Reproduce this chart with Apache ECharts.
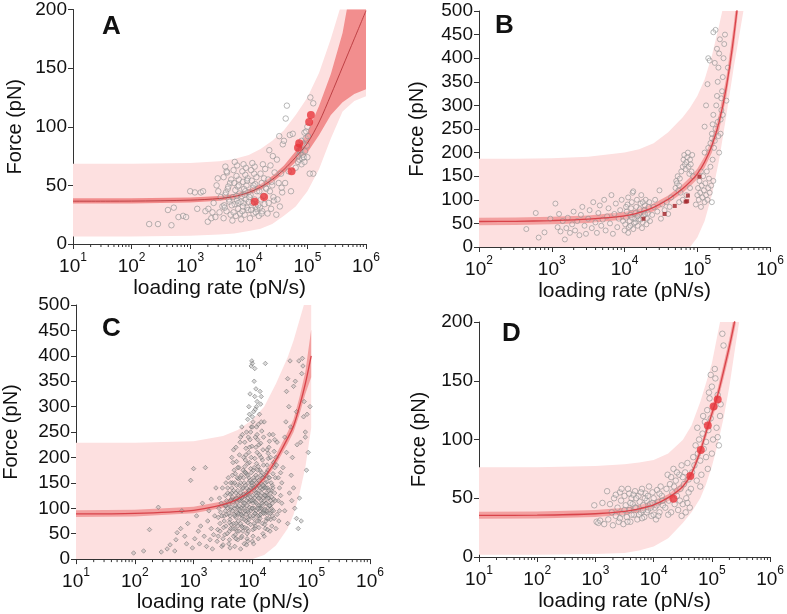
<!DOCTYPE html>
<html><head><meta charset="utf-8">
<script src="https://cdn.jsdelivr.net/npm/echarts@6/dist/echarts.min.js"></script>
<style>html,body{margin:0;padding:0;background:#fff}#c{width:787px;height:614px}</style>
</head><body><div id="c"></div>
<script>
// ---------- DATA (x given as log10 of loading rate in pN/s, y = force in pN) ----------
const xTickExps = [1,2,3,4,5,6];
const minorMults = [2,3,4,5,6,7,8,9];

// Panel A
const aExp     = [1, 2, 3, 3.5, 3.75, 4, 4.2, 4.4, 4.6, 4.8, 5, 5.2, 5.4, 5.6, 5.8, 6];
const aCenter  = [36.5, 36.6, 37.4, 38.8, 40.5, 44, 48.5, 55, 63.5, 74, 86, 104, 127, 151, 175, 199];
const aInLo    = [34.5, 34.6, 35.4, 36.8, 38.5, 42, 46.3, 52.5, 60.5, 70, 78, 93, 110, 121, 128, 132];
const aInHi    = [39, 39, 39.6, 41, 42.7, 46.5, 51, 58, 67, 79, 95, 118, 145, 180, 235, 280];
const aOutLo   = [6.5, 6.5, 7, 8, 9, 11, 13, 17, 24, 32, 45, 64, 90, 113, 122, 126];
const aOutHi   = [68.5, 68.5, 69, 70.5, 72.5, 76, 81, 88, 97, 110, 125, 146, 175, 208, 245, 280];
const aRed = [[4.10,36],[4.26,40],[4.73,62],[4.84,82],[4.86,86],[5.03,104],[5.06,110]];
const aPts = [
[2.30,17],[2.45,17],[2.68,16],[2.62,29],[2.72,31],[2.8,23],[2.88,24],[2.93,23],[3.0,45],[3.08,44],[3.12,30],[3.18,44],[3.22,45],[3.26,28],[3.3,19],[3.31,30],[3.36,22],[3.4,35],[3.43,23],[3.45,50],[3.47,56],[3.5,27],[3.52,40],[3.55,32],[3.38,27],[3.48,45],
[3.57,22],[3.62,28],[3.58,33],[3.66,38],[3.6,42],[3.64,47],[3.68,52],[3.57,57],[3.63,61],[3.69,25],[3.59,31],[3.67,36],[3.61,44],[3.65,49],[3.7,55],[3.62,62],[3.6,66],
[3.72,20],[3.78,24],[3.74,27],[3.82,30],[3.76,34],[3.8,37],[3.73,40],[3.84,43],[3.77,46],[3.81,49],[3.75,52],[3.83,55],[3.79,58],[3.74,63],[3.8,67],[3.85,26],[3.71,33],[3.79,41],[3.83,50],[3.76,70],[3.82,35],
[3.87,21],[3.93,25],[3.89,28],[3.97,31],[3.91,35],[3.95,38],[3.88,41],[3.99,44],[3.92,47],[3.96,50],[3.9,53],[3.98,56],[3.94,59],[3.89,62],[3.95,65],[3.91,68],[3.99,29],[3.86,36],[3.94,45],[3.97,54],[3.9,32],[3.93,42],
[4.02,22],[4.08,26],[4.04,29],[4.12,32],[4.06,35],[4.1,38],[4.03,42],[4.14,45],[4.07,48],[4.11,51],[4.05,54],[4.13,57],[4.09,60],[4.04,63],[4.1,66],[4.06,69],[4.14,30],[4.01,40],[4.08,50],[4.12,27],[4.0,36],
[4.17,24],[4.23,28],[4.19,31],[4.27,34],[4.21,38],[4.25,41],[4.18,45],[4.29,48],[4.22,52],[4.26,56],[4.2,60],[4.28,64],[4.24,68],[4.16,33],[4.3,47],[4.22,26],
[4.32,26],[4.38,30],[4.34,35],[4.42,40],[4.36,45],[4.4,50],[4.33,55],[4.44,61],[4.37,67],[4.41,75],[4.35,80],[4.43,37],[4.39,53],
[4.47,25],[4.53,32],[4.49,38],[4.57,44],[4.51,52],[4.55,60],[4.48,72],[4.58,85],[4.52,92],[4.56,48],
[4.6,88],[4.65,118],[4.63,107],[4.7,93],[4.75,94],[4.72,45],[4.62,52],[4.68,62],
[4.84,70],[4.86,72],[4.85,75],[4.88,78],[4.86,80],[4.9,68],[4.91,73],[4.92,76],[4.89,80],[4.93,85],[4.9,88],[4.95,70],[4.94,74],[4.96,79],[4.97,90],[4.95,95],[5.0,74],[4.99,84],[5.01,92],[4.98,96],[5.0,100],[5.05,125],[5.1,120],[5.1,60],[5.04,60],[4.8,65]];

// Panel B
const bExp     = [2, 2.5, 3, 3.5, 4, 4.2, 4.4, 4.6, 4.8, 4.9, 5, 5.1, 5.2, 5.3, 5.4, 5.5, 5.6, 5.7];
const bCenter  = [54, 54.5, 56, 59, 66, 73, 84, 101, 124, 138, 155, 180, 215, 265, 340, 445, 580, 750];
const bInLo    = [46, 46.5, 48, 51, 58, 65, 76, 93, 115, 128, 144, 168, 200, 248, 320, 420, 550, 710];
const bInHi    = [62, 62.5, 64, 67, 74, 81, 92, 109, 133, 148, 166, 192, 230, 282, 360, 470, 610, 790];
const bOutLo   = [0, 0, 0, 0, 0, 0, 0, 0, 0, 0, 20, 55, 110, 185, 280, 380, 470, 560];
const bOutHi   = [187, 187, 188, 191, 200, 207, 220, 243, 275, 295, 320, 355, 405, 470, 540, 620, 700, 800];
const bRed = [[4.26,60],[4.55,70],[4.69,87],[4.86,97],[4.87,109],[4.84,96],[5.03,149]];
const bPts = [
[2.65,38],[2.78,72],[2.82,20],[2.9,31],[2.98,60],[3.05,92],[3.08,42],[3.1,70],[3.12,33],[3.15,55],[3.18,16],[3.2,40],[3.22,62],[3.25,30],[3.28,48],[3.3,75],[3.32,35],[3.35,55],[3.38,25],[3.4,68],[3.42,85],[3.45,45],[3.47,28],[3.5,60],[3.52,78],[3.55,40],[3.57,95],[3.6,52],[3.62,30],[3.64,72],[3.66,88],[3.68,45],[3.7,58],[3.72,100],[3.74,35],[3.76,65],[3.78,82],[3.8,50],[3.82,110],[3.84,28],[3.86,70],[3.88,92],[3.9,42],[3.92,60],[3.94,78],[3.96,100],[3.98,55],
[4.0,35],[4.01,48],[4.02,62],[4.03,75],[4.04,90],[4.05,105],[4.06,42],[4.07,55],[4.08,68],[4.09,82],[4.1,95],[4.11,115],[4.12,38],[4.13,50],[4.14,60],[4.15,72],[4.16,85],[4.17,100],[4.18,45],[4.19,58],[4.2,70],[4.21,80],[4.22,92],[4.23,110],[4.24,40],[4.25,52],[4.26,65],[4.27,78],[4.28,88],[4.29,100],[4.3,48],[4.31,60],[4.32,72],[4.33,85],[4.34,95],[4.35,55],[4.05,30],[4.12,118],[4.18,65],[4.25,95],[4.08,45],[4.15,52],[4.22,58],[4.28,70],[4.02,85],[4.1,62],
[4.38,68],[4.4,85],[4.42,100],[4.45,75],[4.48,120],[4.5,60],[4.52,90],[4.55,78],[4.58,95],[4.6,70],[4.62,85],[4.64,105],
[4.7,125],[4.71,140],[4.72,135],[4.73,150],[4.74,120],[4.75,130],[4.76,145],[4.77,115],[4.78,160],[4.8,170],[4.81,185],[4.82,195],[4.83,175],[4.84,165],[4.85,180],[4.86,190],[4.87,200],[4.88,170],[4.89,155],[4.9,185],[4.91,175],[4.92,160],[4.93,195],[4.94,150],[4.8,100],[4.75,95],[4.85,110],[4.9,125],
[4.98,90],[5.0,110],[5.01,125],[5.02,100],[5.03,140],[5.04,115],[5.05,85],[5.06,130],[5.07,105],[5.08,150],[5.09,120],[5.1,95],[5.11,135],[5.12,110],[5.13,160],[5.14,100],[5.15,125],[5.16,145],[5.17,115],[5.18,170],[5.19,130],[5.2,95],[5.21,185],[5.22,140],[5.05,160],[5.1,200],[5.15,210],[5.2,230],
[5.1,255],[5.12,300],[5.14,345],[5.15,400],[5.17,395],[5.18,220],[5.2,240],[5.21,260],[5.22,280],[5.23,210],[5.24,225],[5.25,250],[5.26,300],[5.27,320],[5.28,350],[5.29,380],[5.3,410],[5.31,440],[5.32,270],[5.33,290],[5.34,330],[5.35,360],[5.36,400],[5.37,430],[5.38,450],[5.3,200],[5.32,240],[5.27,420],[5.25,460],[5.22,455],[5.4,310],[5.42,380],[5.35,280],[5.28,265],[5.24,390],[5.29,235],[5.33,315]];

// Panel C
const cExp     = [1, 2, 3, 3.5, 3.75, 4, 4.2, 4.4, 4.6, 4.7, 4.8, 4.9, 5];
const cCenter  = [89, 90, 96, 107, 118, 136, 160, 195, 238, 262, 300, 345, 400];
const cInLo    = [83, 84, 90, 101, 111.5, 129, 152.5, 186, 227, 250, 284, 325, 358];
const cInHi    = [96, 97, 103, 114, 125, 143, 168, 205, 250, 275, 318, 368, 452];
const cOutLo   = [0, 0, 0, 0, 0, 0, 8, 27, 60, 88, 128, 180, 258];
const cOutHi   = [229, 229, 232, 242, 254, 274, 300, 345, 397, 430, 470, 510, 540];
const cPts = [
[1.98,12],[2.15,16],[2.4,102],[2.25,58],[2.45,14],[2.55,20],[2.6,28],[2.68,16],[2.7,38],[2.72,52],[2.78,60],[2.8,95],[2.85,45],[2.88,30],[2.9,70],[2.95,155],[2.98,22],[3.0,178],[3.02,40],[3.05,85],[3.08,55],[3.1,30],[3.12,65],[3.15,110],[3.18,45],[3.2,180],[3.22,25],[3.24,75],[3.26,95],[3.28,38],[3.3,60],[3.3,118],[3.32,20],[3.34,48],[3.36,85],[3.38,140],
[3.4,35],[3.41,58],[3.42,82],[3.43,100],[3.44,120],[3.42,45],[3.45,70],[3.46,92],[3.47,110],[3.48,25],[3.49,140],
[3.5,40],[3.51,62],[3.52,85],[3.53,105],[3.54,125],[3.55,150],[3.5,28],[3.52,75],[3.54,95],[3.56,115],[3.57,50],[3.58,130],[3.59,160],
[3.6,30],[3.61,55],[3.62,78],[3.63,98],[3.64,118],[3.65,140],[3.66,165],[3.67,190],[3.68,45],[3.69,88],[3.6,108],[3.62,128],[3.64,68],[3.66,150],[3.68,215],[3.61,38],[3.63,60],[3.65,200],[3.67,112],[3.69,175],
[3.7,25],[3.71,48],[3.72,70],[3.73,92],[3.74,112],[3.75,135],[3.76,158],[3.77,180],[3.78,205],[3.79,230],[3.7,60],[3.72,82],[3.74,102],[3.76,125],[3.78,145],[3.71,168],[3.73,192],[3.75,38],[3.77,88],[3.79,118],[3.7,150],[3.72,220],[3.74,55],[3.76,75],[3.78,98],
[3.8,20],[3.81,42],[3.82,65],[3.83,85],[3.84,105],[3.85,128],[3.86,150],[3.87,172],[3.88,195],[3.89,218],[3.8,240],[3.82,260],[3.84,55],[3.86,78],[3.88,95],[3.81,115],[3.83,138],[3.85,160],[3.87,182],[3.89,205],[3.8,70],[3.82,100],[3.84,122],[3.86,30],[3.88,145],[3.81,165],[3.83,245],[3.85,90],
[3.9,28],[3.91,50],[3.92,72],[3.93,92],[3.94,112],[3.95,135],[3.96,155],[3.97,178],[3.98,200],[3.99,222],[3.9,250],[3.92,275],[3.94,300],[3.96,325],[3.98,380],[3.91,60],[3.93,82],[3.95,102],[3.97,122],[3.99,145],[3.9,168],[3.92,188],[3.94,210],[3.96,235],[3.98,260],[3.91,40],[3.93,130],[3.95,285],[3.97,95],[3.99,390],[3.92,120],[3.94,160],
[4.0,35],[4.01,58],[4.02,80],[4.03,100],[4.04,120],[4.05,142],[4.06,165],[4.07,188],[4.08,210],[4.09,235],[4.0,260],[4.02,290],[4.04,320],[4.06,335],[4.08,310],[4.01,45],[4.03,70],[4.05,90],[4.07,110],[4.09,130],[4.0,150],[4.02,175],[4.04,198],[4.06,220],[4.08,245],[4.01,270],[4.03,155],[4.05,65],[4.07,300],[4.09,85],[4.0,385],[4.04,375],[4.02,115],
[4.1,40],[4.11,62],[4.12,85],[4.13,105],[4.14,125],[4.15,148],[4.16,170],[4.17,195],[4.18,215],[4.19,240],[4.1,265],[4.12,285],[4.14,305],[4.11,75],[4.13,95],[4.15,115],[4.17,138],[4.19,160],[4.1,182],[4.12,205],[4.14,228],[4.16,252],[4.18,50],[4.11,135],[4.13,175],[4.15,100],[4.17,70],[4.19,120],
[4.2,45],[4.21,68],[4.22,90],[4.23,110],[4.24,130],[4.25,152],[4.26,175],[4.27,198],[4.28,220],[4.29,245],[4.2,270],[4.22,60],[4.24,80],[4.26,100],[4.28,120],[4.21,142],[4.23,165],[4.25,185],[4.27,208],[4.29,232],[4.2,140],[4.22,385],[4.24,95],[4.26,58],
[4.3,55],[4.31,78],[4.32,100],[4.33,122],[4.34,145],[4.35,168],[4.36,190],[4.37,212],[4.38,235],[4.39,160],[4.3,105],[4.32,135],[4.34,85],[4.36,118],[4.38,180],[4.31,200],[4.33,65],[4.35,245],
[4.4,60],[4.42,88],[4.44,115],[4.46,140],[4.48,170],[4.4,200],[4.42,230],[4.44,160],[4.46,95],[4.48,125],[4.41,185],[4.45,75],
[4.5,110],[4.52,180],[4.55,240],[4.58,330],[4.6,355],[4.62,300],[4.65,260],[4.68,200],[4.7,140],[4.72,100],[4.75,80],[4.78,60],[4.8,120],[4.82,230],[4.85,395],[4.86,380],[4.88,310],[4.9,250],[4.92,175],[4.95,210],[4.6,70],[4.63,130],[4.66,165],[4.7,340],[4.73,350],[4.76,225],[4.79,390],[4.84,365],[4.87,280],[4.9,240],[4.55,95],[4.5,150],[4.58,210],[4.67,115],[4.83,75],[4.93,285],[4.98,300],[4.75,290],[4.64,390],[4.57,270],
[3.53,48],[3.56,88],[3.58,140],[3.61,72],[3.63,115],[3.66,95],[3.68,135],[3.7,85],[3.71,118],[3.73,145],[3.75,65],[3.77,105],[3.79,160],[3.8,130],[3.82,80],[3.84,175],[3.85,110],[3.87,62],[3.88,125],[3.89,88],[3.9,140],[3.91,105],[3.92,165],[3.93,55],[3.94,78],[3.95,190],[3.96,115],[3.97,68],[3.98,150],[3.99,100],[4.0,125],[4.01,85],[4.02,140],[4.03,180],[4.04,60],[4.05,112],[4.06,95],[4.07,150],[4.08,75],[4.09,175],[4.1,105],[4.11,155],[4.12,120],[4.13,140],[4.14,88],[4.15,200],[4.16,110],[4.17,160],[4.18,92],[4.19,185],[4.2,115],[4.21,98],[4.22,150],[4.23,75],[4.24,170],[4.25,125],[4.26,140],[4.27,90],[4.28,160],[4.29,105],[4.31,130],[4.33,95],[4.35,140],[4.37,80],[4.39,115],[3.72,40],[3.82,45],[3.92,35],[4.02,30],[3.62,22],[3.55,65],[3.45,55],[3.48,85],[3.58,100],[3.87,230],[3.97,250],[4.07,260],[4.0,280],[3.93,240],[4.11,225],[4.05,295],[4.13,330],[4.03,350],[4.15,320],
[3.62,85],[3.64,102],[3.66,122],[3.68,70],[3.7,100],[3.72,130],[3.74,160],[3.76,90],[3.78,115],[3.8,150],[3.82,120],[3.84,140],[3.86,100],[3.88,170],[3.9,115],[3.92,95],[3.94,135],[3.96,85],[3.98,170],[4.0,100],[4.02,160],[4.04,90],[4.06,130],[4.08,160],[4.1,120],[4.12,100],[4.14,165],[4.16,130],[4.18,145],[4.2,95],[4.22,125],[4.24,110],[4.26,120],[4.28,135],[4.3,90],[4.32,150],[4.34,110],[4.36,95],[4.38,130],[3.75,180],[3.85,200],[3.95,220],[4.05,240],[4.15,270],[4.25,215],[3.65,130],[3.55,105],[3.6,90],[3.67,60],[3.77,55],[3.87,110],[3.97,140],[4.07,125],[4.17,105],[4.27,80],[3.83,62],[3.93,150],[4.03,135],[4.13,80],[4.23,140],[3.73,120],[3.63,150],[3.79,95],[3.89,75],[3.99,115],[4.09,100],[4.19,90],[4.29,160],[3.71,105],[3.81,88],[3.91,128],[4.01,110],[4.11,145],[4.21,125],[4.31,115]];

// Panel D
const dExp     = [1, 2, 3, 3.5, 3.75, 4, 4.25, 4.5, 4.65, 4.8, 4.9, 5, 5.1, 5.2, 5.3, 5.4, 5.5];
const dCenter  = [35.4, 35.6, 36.8, 38.8, 41, 44.4, 50.5, 60, 71, 90, 106, 122, 138, 158, 179, 203, 232];
const dInLo    = [32.5, 32.7, 34, 36, 38, 41.5, 47.5, 57, 67.5, 86, 101.5, 117, 132.5, 152, 172.5, 196, 224];
const dInHi    = [38.5, 38.7, 40, 42, 44, 47.5, 53.5, 63.5, 74.5, 94, 110.5, 127, 143.5, 164, 185.5, 210, 240];
const dOutLo   = [2, 2, 2.5, 3.5, 5.5, 9, 16, 29, 38, 50, 62, 77, 96, 118, 145, 178, 210];
const dOutHi   = [76.4, 76.4, 77.5, 79, 80.5, 82.6, 88, 99.6, 112, 132, 148, 165, 190, 215, 245, 275, 305];
const dRed = [[4.34,49.5],[4.63,69],[4.81,91],[4.93,112],[5.03,128],[5.10,134]];
const dPts = [
[2.98,44],[3.02,30],[3.05,29],[3.08,31],[3.12,46],[3.15,28],[3.2,56],[3.22,32],[3.25,45],[3.28,38],[3.3,27],[3.32,50],[3.35,35],[3.38,42],[3.4,30],[3.42,55],[3.44,48],[3.46,37],[3.48,28],[3.5,52],[3.52,44],[3.54,34],[3.56,58],[3.58,40],[3.6,30],[3.62,50],[3.64,45],[3.66,36],[3.68,56],[3.7,42],[3.72,32],[3.74,52],[3.76,47],[3.78,38],[3.8,58],[3.82,44],[3.84,34],[3.86,54],[3.88,48],[3.9,40],[3.92,60],[3.94,45],[3.96,35],[3.98,55],[4.0,50],[4.02,42],[4.04,32],[4.06,57],[4.08,47],[4.1,38],[4.12,60],[4.14,52],[4.16,44],[3.45,58],[3.55,30],[3.65,53],[3.75,36],[3.85,50],[3.95,42],[4.05,44],[4.15,48],[3.5,40],[3.6,46],[3.7,50],[3.8,33],[3.9,52],[4.0,36],[4.1,54],[3.35,53],[3.58,54],[3.78,55],[3.98,46],[3.68,42],[3.88,38],[4.08,35],[3.42,33],[3.62,36],[3.82,40],
[4.2,42],[4.22,58],[4.24,70],[4.26,48],[4.28,62],[4.3,38],[4.32,55],[4.34,75],[4.36,45],[4.38,65],[4.4,52],[4.42,40],[4.44,70],[4.46,58],[4.48,78],[4.5,45],[4.52,62],[4.54,72],[4.56,50],[4.58,80],[4.6,66],[4.62,42],[4.64,58],[4.25,36],[4.35,60],[4.45,48],[4.55,38],[4.5,68],[4.6,55],[4.4,72],[4.3,68],[4.48,35],[4.58,46],
[4.66,72],[4.68,85],[4.7,78],[4.72,95],[4.74,65],[4.76,88],[4.78,100],[4.8,82],[4.82,70],[4.84,105],[4.86,92],[4.88,115],[4.9,98],[4.92,125],[4.94,108],[4.96,135],[4.98,118],[5.0,145],[5.02,100],[5.04,128],[5.06,152],[5.08,110],[5.1,138],[5.12,95],[5.14,120],[4.95,140],[5.0,88],[5.05,160],[4.9,85],[4.85,120],[5.1,102],[5.15,130],[4.98,155],[5.18,190],[5.2,180],[4.75,110],[4.8,60],[4.93,75]];

// ---------- BUILD ----------
const FONT = '"Liberation Sans", Arial, sans-serif';
const P = e => Math.pow(10, e);
const OUTER = '#fde0e0', INNER = '#f3a0a0', LINE = '#d9434a';

const panels = [
  {id:'A', grid:{left:73, top:8, width:293, height:236}, xmin:1, ymax:200, yInt:50, yGap:48, xGap:34,
   exp:aExp, c:aCenter, il:aInLo, ih:aInHi, ol:aOutLo, oh:aOutHi, pts:aPts, red:aRed, redSize:8, redColor:'#e8353b', redSym:'circle',
   lineColor:'#b8383c', lineW:0.9, inner:'#f28e8e', ptSym:'circle', ptSize:5.5, letter:{x:102, y:14}},
  {id:'B', grid:{left:479, top:11, width:293, height:236}, xmin:2, ymax:500, yInt:50, yGap:52, xGap:34,
   exp:bExp, c:bCenter, il:bInLo, ih:bInHi, ol:bOutLo, oh:bOutHi, pts:bPts, red:bRed, redSize:4, redColor:'#a3262b', redSym:'rect',
   lineColor:LINE, lineW:1.3, inner:INNER, ptSym:'circle', ptSize:5, letter:{x:495, y:13}},
  {id:'C', grid:{left:72, top:305, width:298, height:257}, xmin:1, ymax:500, yInt:50, yGap:55, xGap:25,
   exp:cExp, c:cCenter, il:cInLo, ih:cInHi, ol:cOutLo, oh:cOutHi, pts:cPts, red:[], redSize:0, redColor:'#e8353b', redSym:'circle',
   lineColor:LINE, lineW:1.3, inner:INNER, ptSym:'diamond', ptSize:4.5, letter:{x:102, y:316}},
  {id:'D', grid:{left:479, top:322, width:294, height:235}, xmin:1, ymax:200, yInt:50, yGap:50, xGap:34,
   exp:dExp, c:dCenter, il:dInLo, ih:dInHi, ol:dOutLo, oh:dOutHi, pts:dPts, red:dRed, redSize:8, redColor:'#e8353b', redSym:'circle',
   lineColor:LINE, lineW:1.3, inner:INNER, ptSym:'circle', ptSize:5.5, letter:{x:502, y:321}}
];

const grid = [], xAxis = [], yAxis = [], series = [], graphic = [];
panels.forEach((p, i) => {
  grid.push(Object.assign({containLabel:false}, p.grid));
  xAxis.push({
    type:'log', logBase:10, gridIndex:i, min:P(p.xmin), max:P(6),
    name:'loading rate (pN/s)', nameLocation:'middle', nameGap:p.xGap,
    nameTextStyle:{fontFamily:FONT, fontSize:21, color:'#111'},
    axisLine:{lineStyle:{color:'#333', width:1}},
    axisTick:{show:true, length:5, lineStyle:{color:'#333'}},
    splitLine:{show:false},
    axisLabel:{margin:8, color:'#111', fontFamily:FONT,
      formatter: v => { const e = Math.round(Math.log10(v)); return xTickExps.includes(e) ? '{b|10}{s|' + e + '}' : ''; },
      rich:{b:{fontSize:19, fontFamily:FONT, color:'#111', lineHeight:24, verticalAlign:'bottom'},
            s:{fontSize:12, fontFamily:FONT, color:'#111', lineHeight:24, verticalAlign:'top'}}}
  });
  yAxis.push({
    type:'value', gridIndex:i, min:0, max:p.ymax, interval:p.yInt,
    name:'Force (pN)', nameLocation:'middle', nameGap:p.yGap,
    nameTextStyle:{fontFamily:FONT, fontSize:20, color:'#111'},
    axisLine:{show:true, lineStyle:{color:'#333', width:1}},
    axisTick:{show:true, length:5, lineStyle:{color:'#333'}},
    splitLine:{show:false},
    axisLabel:{margin:6, fontSize:19, fontFamily:FONT, color:'#111'}
  });
  const base = {xAxisIndex:i, yAxisIndex:i, silent:true, animation:false};
  // confidence bands: polygon through the library's coordinate mapping, clipped to the grid
  const band = (lo, hi, color, z) => {
    series.push(Object.assign({}, base, {type:'custom', z:z,
      data:p.exp.map((e,k)=>[P(e), lo[k], hi[k]]),
      encode:{x:0, y:[1,2]},
      renderItem:(params, api) => {
        if (params.dataIndex !== 0) return null;
        const up = p.exp.map((e,k)=>api.coord([P(e), hi[k]]));
        const dn = p.exp.map((e,k)=>api.coord([P(e), lo[k]])).reverse();
        const cs = params.coordSys;
        return {type:'polygon', shape:{points:up.concat(dn)}, style:{fill:color, stroke:null},
          clipPath:{type:'rect', shape:{x:cs.x, y:cs.y, width:cs.width, height:cs.height}}};
      }}));
  };
  band(p.ol, p.oh, OUTER, 1);
  band(p.il, p.ih, p.inner, 2);
  series.push(Object.assign({}, base, {type:'scatter', symbol:p.ptSym, symbolSize:p.ptSize, z:3,
    itemStyle: p.ptSym === 'diamond'
      ? {color:'rgba(170,170,170,0.55)', borderColor:'#5e5e5e', borderWidth:0.6}
      : {color:'rgba(255,255,255,0.25)', borderColor:'#8f8f8f', borderWidth:0.8},
    data:p.pts.map(q=>[P(q[0]), q[1]])}));
  series.push(Object.assign({}, base, {type:'line', symbol:'none', smooth:0.3, z:4,
    lineStyle:{color:p.lineColor, width:p.lineW}, data:p.exp.map((e,k)=>[P(e), p.c[k]])}));
  if (p.red.length) series.push(Object.assign({}, base, {type:'scatter', symbol:p.redSym, symbolSize:p.redSize, z:5,
    itemStyle:{color:p.redColor}, data:p.red.map(q=>[P(q[0]), q[1]])}));
  // log minor ticks
  const minor = [];
  for (let e = p.xmin; e < 6; e++) minorMults.forEach(m => minor.push([m * P(e), 0]));
  series.push(Object.assign({}, base, {type:'custom', z:6, data:minor,
    renderItem:(params, api) => { const pt = api.coord([api.value(0), 0]);
      return {type:'line', shape:{x1:pt[0], y1:pt[1], x2:pt[0], y2:pt[1]+3}, style:{stroke:'#333', lineWidth:1}}; }}));
  graphic.push({type:'text', left:p.letter.x, top:p.letter.y, z:100,
    style:{text:p.id, font:'bold 26px ' + FONT, fill:'#111'}});
});

const chart = echarts.init(document.getElementById('c'), null, {renderer:'canvas'});
chart.setOption({animation:false, backgroundColor:'#fff', grid, xAxis, yAxis, series, graphic});
</script></body></html>
